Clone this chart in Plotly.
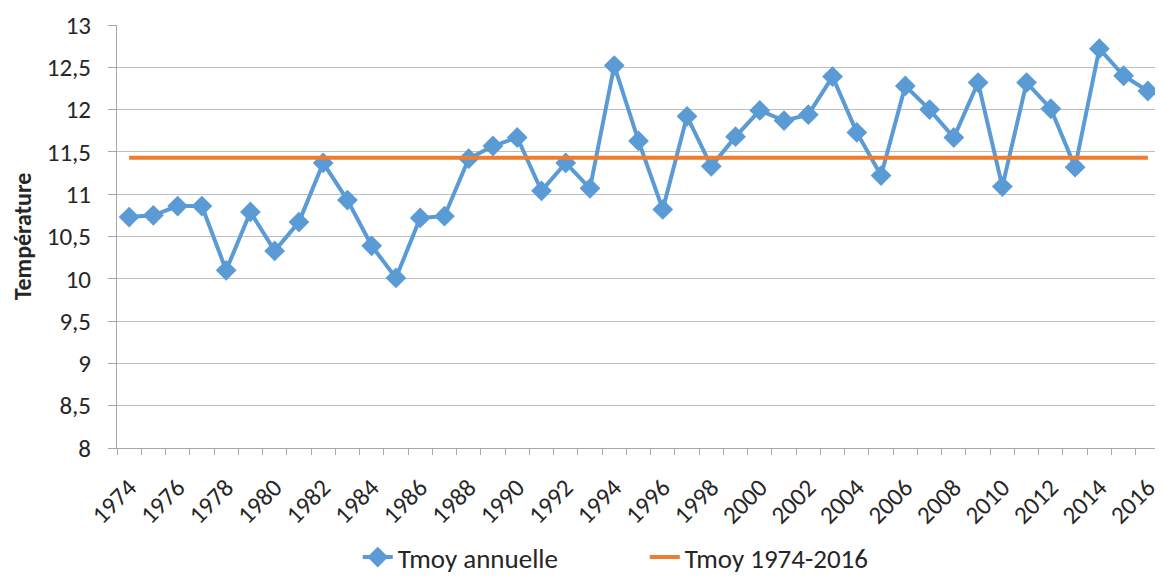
import plotly.graph_objects as go

years = [str(y) for y in range(1974, 2017)]
tmoy_annuelle = [10.73, 10.75, 10.86, 10.86, 10.10, 10.79, 10.33, 10.67, 11.37, 10.93,
                 10.39, 10.01, 10.72, 10.74, 11.42, 11.57, 11.67, 11.04, 11.37, 11.07,
                 12.52, 11.63, 10.82, 11.92, 11.33, 11.68, 11.99, 11.87, 11.94, 12.39,
                 11.73, 11.22, 12.28, 12.00, 11.67, 12.32, 11.09, 12.32, 12.01, 11.32,
                 12.72, 12.40, 12.22]
tmoy_periode = [11.43] * len(years)
tick_text = [y if int(y) % 2 == 0 else "" for y in years]

fig = go.Figure()
fig.add_trace(go.Scatter(
    x=years, y=tmoy_annuelle, name="Tmoy annuelle",
    mode="lines+markers",
    line=dict(color="#5B9BD5", width=4),
    marker=dict(symbol="diamond", size=16, color="#5B9BD5")))
fig.add_trace(go.Scatter(
    x=years, y=tmoy_periode, name="Tmoy 1974-2016",
    mode="lines",
    line=dict(color="#ED7D31", width=4)))

# page body has an 8px margin, so the figure is shrunk and shifted to compensate
fig.update_layout(
    width=1155, height=574,
    margin=dict(l=109, r=3, t=17, b=134),
    plot_bgcolor="white", paper_bgcolor="white",
    separators=",.",
    font=dict(family="Carlito, Noto Sans", size=25, color="#262626"),
    showlegend=True,
    legend=dict(orientation="h", x=0.506, xanchor="center",
                yref="container", y=-0.03, yanchor="bottom",
                font=dict(size=27), entrywidth=242),
    xaxis=dict(type="category", tickmode="array", tickvals=years, ticktext=tick_text,
               tickangle=-45, tickson="boundaries", ticks="outside", ticklen=6,
               tickcolor="#A6A6A6", showline=True, linecolor="#A6A6A6", linewidth=1,
               showgrid=False, range=[-0.5, len(years) - 0.5], automargin=False,
               tickfont=dict(size=25), ticklabelstandoff=14),
    yaxis=dict(range=[8, 13], dtick=0.5, showgrid=True, gridcolor="#BFBFBF", gridwidth=1,
               showline=True, linecolor="#A6A6A6", ticks="outside", ticklen=8,
               tickcolor="#A6A6A6", zeroline=False, automargin=False,
               tickfont=dict(size=25), ticklabelstandoff=12,
               title=dict(text="<b>Température</b>", font=dict(size=24), standoff=10)),
)

fig.write_html("out.html")
